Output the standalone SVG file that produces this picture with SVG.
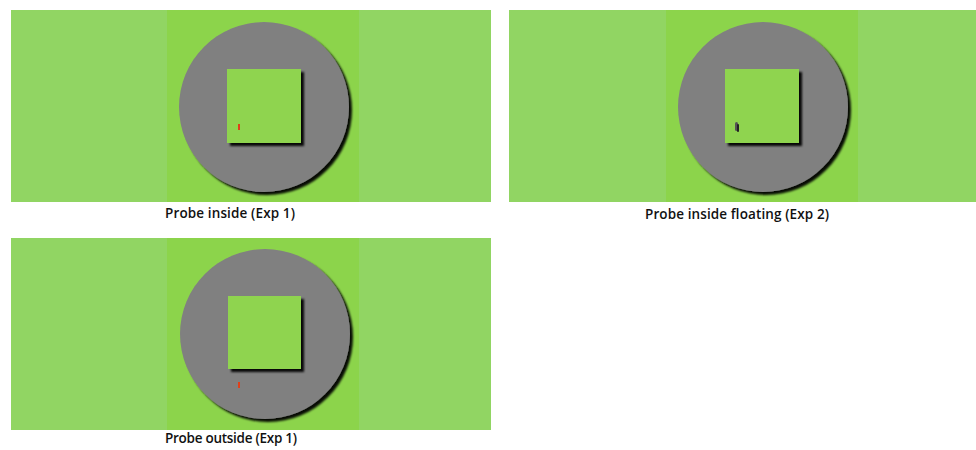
<svg xmlns="http://www.w3.org/2000/svg" width="976" height="450" viewBox="0 0 976 450">
<style>
.bg{fill:#91d563}
.band{fill:#8cd44b}
.disc{fill:#808080}
.sq{fill:#8fd44f}
.lbl{font-family:"Open Sans","Liberation Sans",sans-serif;font-size:13.5px;font-weight:600;fill:#111}
</style>
<defs>
<filter id="sh" x="-20%" y="-20%" width="140%" height="140%">
<feGaussianBlur in="SourceAlpha" stdDeviation="0.8"/>
<feOffset dx="3" dy="3" result="o"/>
<feFlood flood-color="#000" flood-opacity="0.95"/>
<feComposite in2="o" operator="in"/>
<feMerge><feMergeNode/><feMergeNode in="SourceGraphic"/></feMerge>
</filter>
</defs>
<rect width="976" height="450" fill="#fff"/>
<g id="panel1">
<rect class="bg" x="11" y="10" width="480" height="192"/>
<rect class="band" x="167" y="10" width="192" height="192"/>
<circle class="disc" cx="264" cy="107" r="85" filter="url(#sh)"/>
<rect class="sq" x="227" y="69" width="74" height="74" filter="url(#sh)"/>
<rect x="238" y="124" width="2" height="6" fill="#e0401a"/>
<text class="lbl" x="165" y="218" textLength="130">Probe inside (Exp 1)</text>
</g>
<g id="panel2">
<rect class="bg" x="509" y="10" width="467" height="192"/>
<rect class="band" x="666" y="10" width="192" height="192"/>
<circle class="disc" cx="763" cy="107" r="85" filter="url(#sh)"/>
<rect class="sq" x="725" y="69" width="74" height="74" filter="url(#sh)"/>
<rect x="735" y="122" width="3" height="9" rx="1.5" fill="#555"/>
<rect x="737" y="124" width="2" height="8" rx="1" fill="#222"/>
<text class="lbl" x="645" y="219" textLength="184">Probe inside floating (Exp 2)</text>
</g>
<g id="panel3">
<rect class="bg" x="11" y="238" width="480" height="192"/>
<rect class="band" x="167" y="238" width="192" height="192"/>
<circle class="disc" cx="265" cy="334" r="85" filter="url(#sh)"/>
<rect class="sq" x="228" y="296" width="73" height="73" filter="url(#sh)"/>
<rect x="238" y="382" width="2" height="6" fill="#e0401a"/>
<text class="lbl" x="165" y="443" textLength="132">Probe outside (Exp 1)</text>
</g>
</svg>
